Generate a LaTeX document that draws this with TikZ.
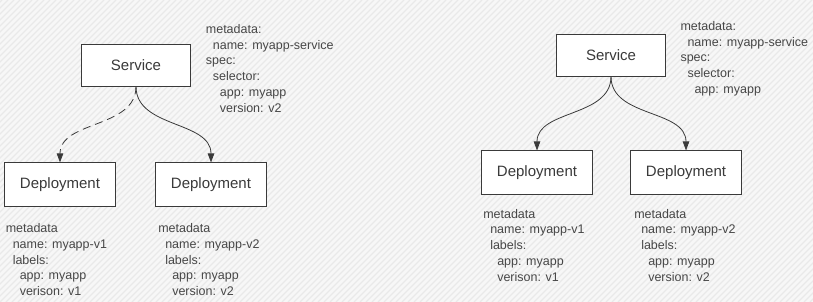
\documentclass[tikz,border=0pt]{standalone}
\usepackage{fontspec}
\setmainfont{Liberation Sans}
\usetikzlibrary{arrows.meta, positioning, calc}
\definecolor{KubeLine}{HTML}{3A3A3A}
\definecolor{KubeText}{HTML}{474747}
\definecolor{KubeHatch}{HTML}{E9E9E9}
\newcommand{\yamlind}{\hspace*{7pt}}

\begin{document}
\begin{tikzpicture}[x=1pt, y=-1pt, >={Triangle[length=9pt, width=6.5pt]}, node distance=75pt,
  box/.style={rectangle, draw=KubeLine, fill=white, line width=0.9pt, minimum width=109pt, minimum height=42pt, text=KubeLine, font=\fontsize{15}{18}\selectfont},
  depbox/.style={box, minimum width=111pt, minimum height=44pt},
  yaml/.style={align=left, inner sep=0pt, anchor=base west, text=KubeText, font=\fontsize{12.5}{15.8}\selectfont},
  link/.style={->, KubeLine, line width=0.8pt, out=-90, in=90},
  weak/.style={link, dash pattern=on 8pt off 5pt}]
  % background (base anchor of the yaml texts = last line)
  \fill[white!97!black] (0,0) rectangle (813,302);
  \begin{scope}
    \clip (0,0) rectangle (813,302);
    \foreach \i in {-306,-300,...,813}
      \draw[KubeHatch, line width=1.2pt] (\i,302) -- ++(302,-302);
  \end{scope}
  \useasboundingbox (0,0) rectangle (813,302);

  % left: service selects version v2 only
  \node[box] (svcA) at (136,65) {Service};
  \node[depbox, below=76pt of svcA, xshift=-76pt] (depA1) {Deployment};
  \node[depbox, below=76pt of svcA, xshift=75pt] (depA2) {Deployment};

  \node[yaml] (ymlA) at (205.7,112.3) {metadata:\\ \yamlind name: myapp-service\\ spec:\\ \yamlind selector:\\ \yamlind\yamlind app: myapp\\ \yamlind\yamlind version: v2};
  \node[yaml] (ymlA1) at ($(depA1.south west)+(1.5,88.3)$) {metadata\\ \yamlind name: myapp-v1\\ \yamlind labels:\\ \yamlind\yamlind app: myapp\\ \yamlind\yamlind verison: v1};
  \node[yaml] (ymlA2) at ($(depA2.south west)+(3,88.3)$) {metadata\\ \yamlind name: myapp-v2\\ \yamlind labels:\\ \yamlind\yamlind app: myapp\\ \yamlind\yamlind version: v2};

  \draw[weak] (svcA.south) to (depA1.north);
  \draw[link] (svcA.south) to (depA2.north);

  % right: service selects both versions
  \node[box] (svcB) at (611,55) {Service};
  \node[depbox, below=74pt of svcB, xshift=-74pt] (depB1) {Deployment};
  \node[depbox, below=74pt of svcB, xshift=75pt] (depB2) {Deployment};

  \node[yaml] (ymlB) at (680.3,93.6) {metadata:\\ \yamlind name: myapp-service\\ spec:\\ \yamlind selector:\\ \yamlind\yamlind app: myapp};
  \node[yaml] (ymlB1) at ($(depB1.south west)+(2,86)$) {metadata\\ \yamlind name: myapp-v1\\ \yamlind labels:\\ \yamlind\yamlind app: myapp\\ \yamlind\yamlind verison: v1};
  \node[yaml] (ymlB2) at ($(depB2.south west)+(4,86)$) {metadata\\ \yamlind name: myapp-v2\\ \yamlind labels:\\ \yamlind\yamlind app: myapp\\ \yamlind\yamlind version: v2};

  \draw[link] (svcB.south) to (depB1.north);
  \draw[link] (svcB.south) to (depB2.north);
\end{tikzpicture}
\end{document}
